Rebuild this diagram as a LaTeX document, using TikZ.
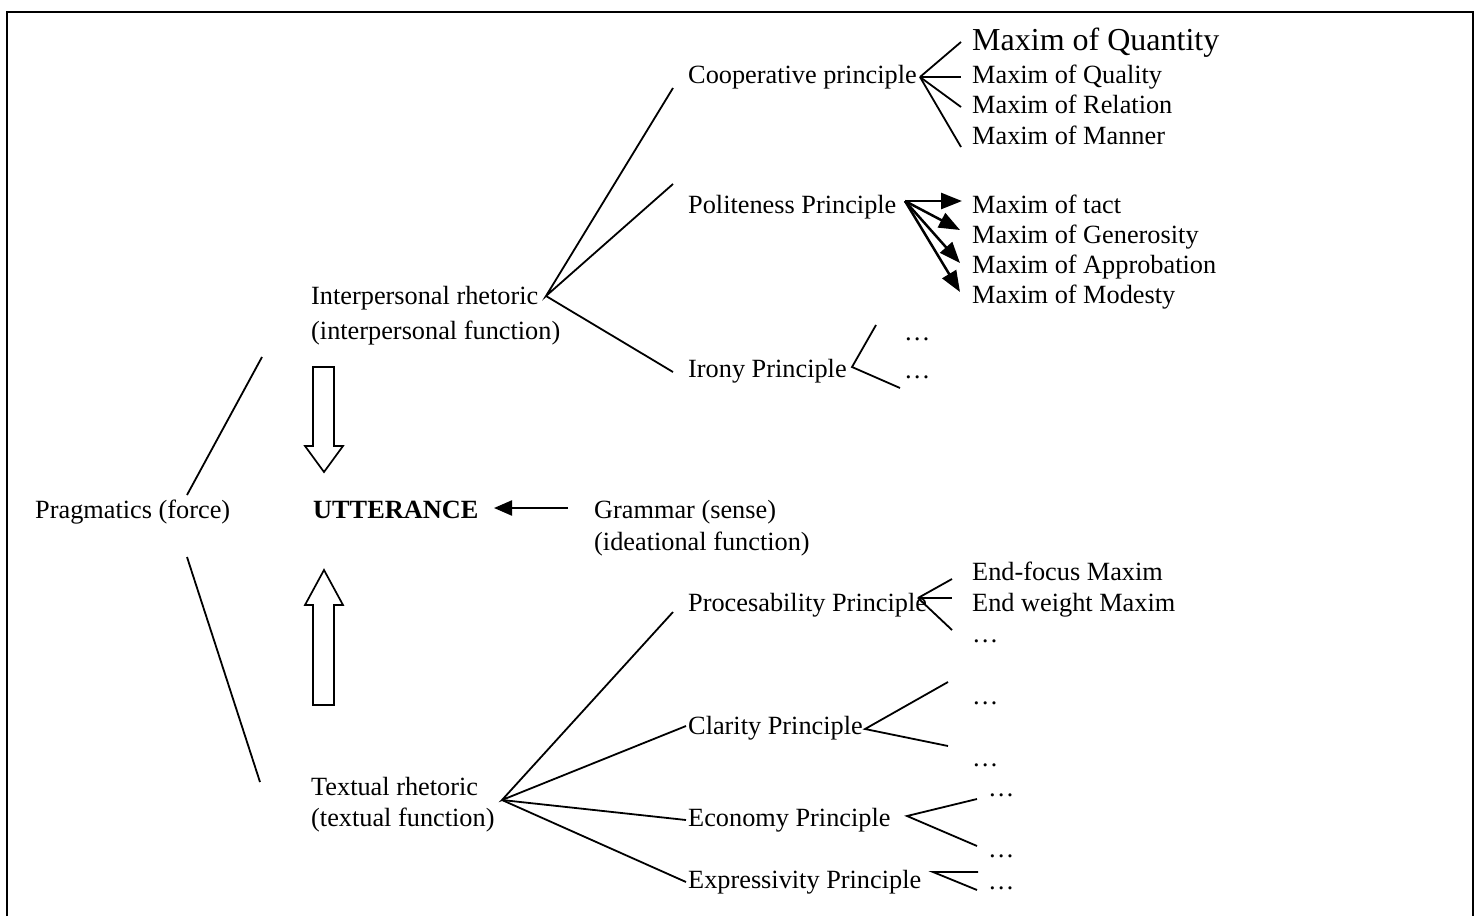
\documentclass[tikz,border=0pt]{standalone}
\usepackage{fontspec}
\setmainfont{Liberation Serif}
\usetikzlibrary{arrows.meta}
\begin{document}
\begin{tikzpicture}[x=1pt,y=-1pt,
  lbl/.style={anchor=base west, inner sep=0pt, font=\fontsize{26.3}{30}\selectfont},
  biglbl/.style={lbl, font=\fontsize{32}{36}\selectfont},
  branch/.style={line width=1.8pt},
  pointer/.style={line width=2.5pt, -{Triangle[length=21pt,width=16pt]}},
  hollow/.style={line width=1.7pt, fill=white, line join=miter},
]
\useasboundingbox (0,0) rectangle (1478,916);
% frame, open at the bottom
\draw[line width=2pt] (7,916) |- (1473,12) -- (1473,916);

% ---------- labels ----------
\node[lbl] (prag) at (35,518) {Pragmatics (force)};
\node[lbl, font=\fontsize{26.3}{30}\selectfont\bfseries] (utt) at (313,518) {UTTERANCE};
\node[lbl] (gram) at (594,518) {Grammar (sense)};
\node[lbl] (gram2) at (594,550) {(ideational function)};

\node[lbl] (inter) at (311,304) {Interpersonal rhetoric};
\node[lbl] (inter2) at (311,339) {(interpersonal function)};
\node[lbl] (text) at (311,795) {Textual rhetoric};
\node[lbl] (text2) at (311,826) {(textual function)};

\node[lbl] (coop) at (688,83) {Cooperative principle};
\node[lbl] (polite) at (688,213) {Politeness Principle};
\node[lbl] (irony) at (688,377) {Irony Principle};

\node[biglbl] (quant) at (972,50) {Maxim of Quantity};
\node[lbl] (qual) at (972,83) {Maxim of Quality};
\node[lbl] (rel) at (972,113) {Maxim of Relation};
\node[lbl] (mann) at (972,144) {Maxim of Manner};

\node[lbl] (tact) at (972,213) {Maxim of tact};
\node[lbl] (gen) at (972,243) {Maxim of Generosity};
\node[lbl] (appr) at (972,273) {Maxim of Approbation};
\node[lbl] (mod) at (972,303) {Maxim of Modesty};

\node[lbl] (ironyA) at (904,340) {\ldots};
\node[lbl] (ironyB) at (904,378) {\ldots};

\node[lbl] (proc) at (688,611) {Procesability Principle};
\node[lbl] (endf) at (972,580) {End-focus Maxim};
\node[lbl] (endw) at (972,611) {End weight Maxim};
\node[lbl] (procC) at (972,642) {\ldots};

\node[lbl] (clar) at (688,734) {Clarity Principle};
\node[lbl] (clarA) at (972,704) {\ldots};
\node[lbl] (clarB) at (972,766) {\ldots};

\node[lbl] (econ) at (688,826) {Economy Principle};
\node[lbl] (econA) at (988,796) {\ldots};
\node[lbl] (econB) at (988,857) {\ldots};

\node[lbl] (expr) at (688,888) {Expressivity Principle};
\node[lbl] (exprA) at (988,889) {\ldots};

% ---------- branch points ----------
\coordinate (vInter) at (546,296);
\coordinate (vText) at (502,800);
\coordinate (vCoop) at (920,77);
\coordinate (vPol) at (905,201);
\coordinate (vIrony) at (852,367);
\coordinate (vProc) at (918,598);
\coordinate (vClar) at (865,729);
\coordinate (vEcon) at (907,816);
\coordinate (vExpr) at (933,872);

% pragmatics split
\coordinate (pUp) at (262,357);
\coordinate (pUpEnd) at (187,495);
\coordinate (pDn) at (260,782);
\coordinate (pDnEnd) at (187,557);
\draw[branch] (pUpEnd) -- (pUp);
\draw[branch] (pDnEnd) -- (pDn);

% interpersonal rhetoric
\coordinate (iC) at (673,88);
\coordinate (iP) at (673,184);
\coordinate (iI) at (673,372);
\draw[branch] (iC) -- (vInter) -- (iP);
\draw[branch] (vInter) -- (iI);

% textual rhetoric
\coordinate (tP) at (673,612);
\coordinate (tC) at (686,726);
\coordinate (tE) at (686,820);
\coordinate (tX) at (686,882);
\draw[branch] (tP) -- (vText) -- (tC);
\draw[branch] (vText) -- (tE);
\draw[branch] (vText) -- (tX);

% cooperative principle maxims
\coordinate (c1) at (961,42);
\coordinate (c2) at (961,77);
\coordinate (c3) at (961,107);
\coordinate (c4) at (961,147);
\foreach \e in {c1,c2,c3,c4} \draw[branch] (vCoop) -- (\e);

% politeness principle maxims
\coordinate (p1) at (962,201);
\coordinate (p2) at (960,230);
\coordinate (p3) at (960,263);
\coordinate (p4) at (960,292);
\foreach \e in {p1,p2,p3,p4} \draw[pointer] (vPol) -- (\e);

% irony principle
\coordinate (r1) at (876,325);
\coordinate (r2) at (900,388);
\draw[branch] (r1) -- (vIrony) -- (r2);

% processability principle
\coordinate (s1) at (952,579);
\coordinate (s2) at (952,598);
\coordinate (s3) at (952,630);
\foreach \e in {s1,s2,s3} \draw[branch] (vProc) -- (\e);

% clarity principle
\coordinate (k1) at (948,682);
\coordinate (k2) at (948,746);
\draw[branch] (k1) -- (vClar) -- (k2);

% economy principle
\coordinate (e1) at (977,799);
\coordinate (e2) at (977,846);
\draw[branch] (e1) -- (vEcon) -- (e2);

% expressivity principle
\coordinate (x1) at (978,872);
\coordinate (x2) at (977,890);
\draw[branch] (x1) -- (vExpr) -- (x2);

% grammar feeds the utterance
\coordinate (gStart) at (568,508);
\coordinate (gTip) at (494,508);
\draw[line width=2.2pt, -{Triangle[length=18pt,width=15pt]}] (gStart) -- (gTip);

% hollow block arrows towards the utterance
\draw[hollow] (313,367) -- (334,367) -- (334,446) -- (343,446) -- (324,472)
  -- (305,446) -- (313,446) -- cycle;
\draw[hollow] (313,705) -- (334,705) -- (334,605) -- (343,605) -- (324,570)
  -- (305,605) -- (313,605) -- cycle;
\end{tikzpicture}
\end{document}
